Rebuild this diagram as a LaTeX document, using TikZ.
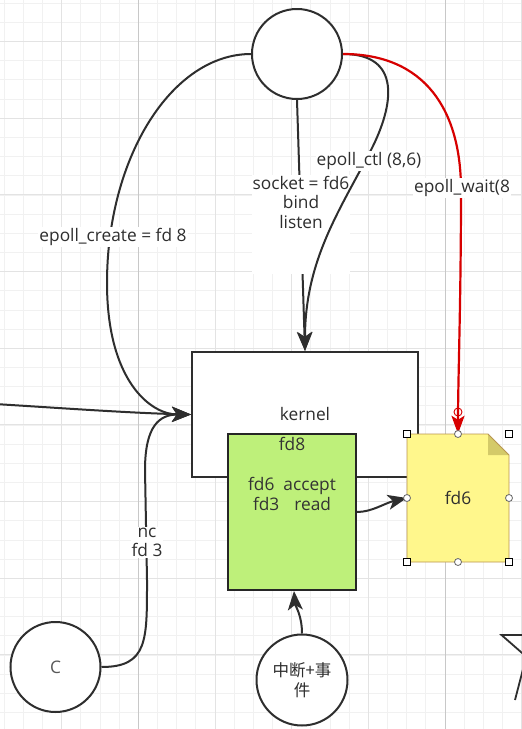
\documentclass[tikz,border=0pt]{standalone}
\usepackage{fontspec}
\setmainfont{Open Sans}
\newfontfamily\cjkfont{Noto Sans CJK SC}
\usetikzlibrary{arrows.meta}
\definecolor{ink}{HTML}{2E2E2E}
\definecolor{gridminor}{HTML}{F1F1F1}
\definecolor{gridmajor}{HTML}{E3E3E3}
\definecolor{pageline}{HTML}{C8C8C8}
\definecolor{greenfill}{RGB}{190,240,122}
\definecolor{notefill}{RGB}{255,247,140}
\definecolor{notefold}{RGB}{212,202,105}
\definecolor{noteline}{RGB}{185,150,80}
\definecolor{redline}{RGB}{215,0,0}
\tikzset{
  circ/.style={circle,draw=ink,line width=2pt,fill=white,minimum size=90pt,inner sep=0pt,text=ink!80},
  kbox/.style={rectangle,draw=ink,line width=2pt,fill=white,inner sep=0pt},
  gbox/.style={rectangle,draw=black!85,line width=2pt,fill=greenfill,inner sep=0pt},
  lbl/.style={fill=white,inner sep=1pt,align=center,text=ink},
  gtxt/.style={inner sep=0pt,align=center,text=black!80},
  edge/.style={draw=ink,line width=2pt,-{Stealth[length=19pt,width=15pt,inset=5pt]}},
  rededge/.style={draw=redline,line width=2.2pt,-{Stealth[length=18pt,width=13pt,inset=4pt]}},
  hsq/.style={draw=black,line width=0.8pt,fill=white},
  hci/.style={draw=black!60,line width=0.8pt,fill=white}
}
\begin{document}
\begin{tikzpicture}[x=1pt,y=-1pt,font=\fontsize{17.3}{19.5}\selectfont]
\useasboundingbox (0,0) rectangle (522,729);
\clip (0,0) rectangle (522,729);
\fill[white] (0,0) rectangle (522,729);
% grid
\foreach \i in {0,...,27} \draw[gridminor,line width=1pt] (4.2+19.17*\i,0) -- ++(0,729);
\foreach \i in {0,...,37} \draw[gridminor,line width=1pt] (0,3.3+19.17*\i) -- ++(522,0);
\foreach \i in {0,...,6} \draw[gridmajor,line width=1pt] (61.7+76.68*\i,0) -- ++(0,729);
\foreach \i in {0,...,8} \draw[gridmajor,line width=1pt] (0,41.5+76.68*\i) -- ++(522,0);
\draw[pageline,line width=1pt] (138.6,0) -- (138.6,729);
\draw[pageline,line width=1pt] (445,0) -- (445,729);

% shapes
\node[circ] (top) at (297,54) {};
\node[kbox,minimum width=226pt,minimum height=125pt,text=ink] (kernel) at (305,414.5) {kernel};
\node[gbox,minimum width=128pt,minimum height=156pt] (green) at (292,512) {};
\node[gtxt] (gfd8) at (292,444) {fd8};
\node[gtxt] (glist) at (292,494) {fd6\hspace{9pt}accept\\fd3\hspace{15pt}read};

% note
\fill[notefill] (407,434) -- (488,434) -- (509,455) -- (509,562) -- (407,562) -- cycle;
\fill[notefold] (488,434) -- (488,455) -- (509,455) -- cycle;
\draw[noteline,line width=0.8pt] (407,434) -- (488,434) -- (509,455) -- (509,562) -- (407,562) -- cycle;
\node[minimum width=102pt,minimum height=128pt,inner sep=0pt,text=ink] (note) at (458,498) {fd6};

\node[circ] (cnode) at (55.5,667) {C};
\node[circ,minimum size=91pt,align=center,text=ink,font=\cjkfont\fontsize{16.5}{20}\selectfont] (intr) at (302,680) {中断+事\\件};

% star fragment
\draw[ink,line width=1.8pt,line join=miter] (545,635) -- (501.5,635) -- (545,673);
\draw[ink,line width=1.8pt] (515,700) -- (528,650);

% edges
\coordinate (lin) at (-5,404);
\draw[edge] (lin) .. controls (60,408) and (130,413) .. (kernel.west);
\draw[edge] (top.west) .. controls (172,54) and (107,157) .. (107,283) .. controls (107,380) and (150,414.5) .. (kernel.west);
\draw[edge] (cnode.east) .. controls (148,667) and (147,640) .. (147,580) -- (145,470) .. controls (145,425) and (160,414.5) .. (kernel.west);
\draw[edge] (top.south) -- (kernel.north);
\node[lbl] (lcreate) at (113,237) {epoll\_create = fd 8};
\node[lbl] (lnc) at (147,542.5) {nc\\fd 3};
\node[lbl,anchor=north] (lsock) at (301,175) {socket = fd6\\bind\\listen\\\strut\\\strut};
\draw[edge] (top.east) .. controls (402,54) and (394,105) .. (371,150) .. controls (340,210) and (305,260) .. (kernel.north);
\node[lbl] (lctl) at (369,161) {epoll\_ctl (8,6)};
\draw[rededge] (top.east) .. controls (425,54) and (461,110) .. (461,190) .. controls (461,300) and (458,380) .. (note.north);
\node[lbl] (lwait) at (462,188) {epoll\_wait(8};
\draw[redline,line width=0.9pt] (458,412) circle (4pt);
\draw[edge] (green.east) .. controls (372,512) and (385,503) .. (note.west);
\draw[edge] (intr.north) .. controls (302,615) and (295,605) .. ([xshift=2pt]green.south);

% selection handles
\foreach \p in {(407,434),(509,434),(407,562),(509,562)}
  \draw[hsq] \p ++(-3.5,-3.5) rectangle ++(7,7);
\foreach \p in {(458,434),(407,498),(509,498),(458,562)}
  \draw[hci] \p circle (3.5pt);
\end{tikzpicture}
\end{document}
